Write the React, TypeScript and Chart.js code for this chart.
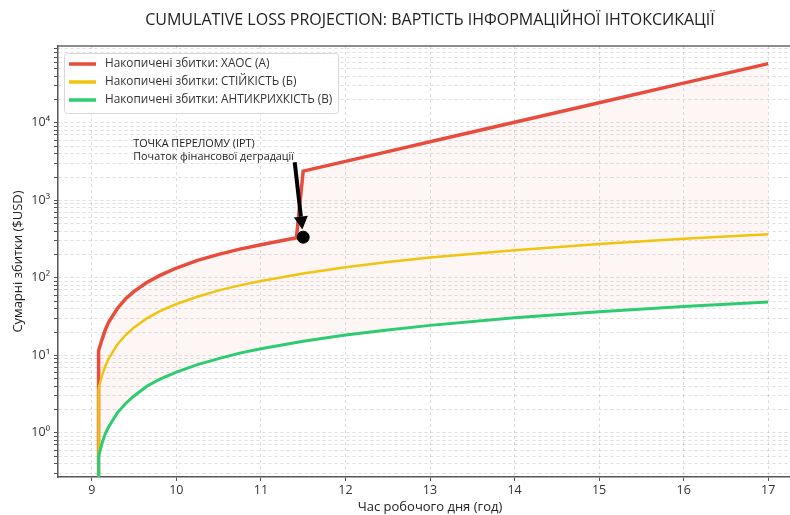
import React, { useEffect, useRef } from 'react';
import { Chart, registerables } from 'chart.js';
Chart.register(...registerables);

const TITLE = 'CUMULATIVE LOSS PROJECTION: ВАРТІСТЬ ІНФОРМАЦІЙНОЇ ІНТОКСИКАЦІЇ';
const X_TITLE = 'Час робочого дня (год)';
const Y_TITLE = 'Сумарні збитки ($USD)';
const LABEL_CHAOS = 'Накопичені збитки: ХАОС (А)';
const LABEL_STEADY = 'Накопичені збитки: СТІЙКІСТЬ (Б)';
const LABEL_ANTI = 'Накопичені збитки: АНТИКРИХКІСТЬ (В)';
const ANNOT_LINES = ['ТОЧКА ПЕРЕЛОМУ (IPT)', 'Початок фінансової деградації'];

// near-zero cumulative loss at the start of the day (below the visible axis range)
const START_LOSS = 0.001;

// hours for the resilient / antifragile series
const hours = [9.08, 9.08, 9.12, 9.16, 9.2, 9.3, 9.4, 9.5, 9.65, 9.8, 10, 10.25, 10.5, 10.75, 11, 11.5, 12, 12.5, 13, 14, 15, 16, 17];
const lossSteady = [START_LOSS, 3.7, 5.5, 7.3, 9.1, 13.7, 18.3, 23, 30, 37, 46, 57, 69, 80, 91, 114, 137, 160, 183, 228, 274, 320, 366];
const lossAnti = [START_LOSS, 0.5, 0.73, 0.98, 1.2, 1.8, 2.4, 3.0, 4.0, 4.9, 6.1, 7.6, 9.1, 10.7, 12.2, 15.2, 18.3, 21.3, 24.4, 30.5, 36.6, 42.7, 48.8];
// hours for the chaos series (with the jump at IPT)
const hoursChaos = [9.08, 9.08, 9.12, 9.16, 9.2, 9.3, 9.4, 9.5, 9.65, 9.8, 10, 10.25, 10.5, 10.75, 11, 11.42, 11.5, 12, 12.5, 13, 14, 15, 16, 17];
const lossChaos = [START_LOSS, 11.5, 16, 21.5, 27, 40, 54, 67, 87, 107, 134, 168, 201, 235, 268, 330, 2380, 3180, 4250, 5700, 10200, 18200, 32500, 58000];

// IPT annotation (data coordinates)
const IPT_POINT = [11.5, 335];
const ARROW_TAIL = [11.4, 3100];
const ARROW_TIP = [11.49, 420];
const ANNOT_TEXT_POS = [9.49, 5300];

const X_TICKS = [9, 10, 11, 12, 13, 14, 15, 16, 17];
const Y_DECADES = [-1, 0, 1, 2, 3, 4, 5];
const Y_DECADE_LABELS = ['10⁻¹', '10⁰', '10¹', '10²', '10³', '10⁴', '10⁵'];
const Y_MINOR_MULT = [1, 2, 3, 4, 5, 6, 7, 8, 9];
const Y_MIN = 0.27;
const Y_MAX = 98000;

const FONT = '"Open Sans", Lato, sans-serif';
const RED = '#e74c3c';
const YELLOW = '#f1c40f';
const GREEN = '#2ecc71';

const toXY = (xs: number[], ys: number[]) => xs.map((x, i) => ({ x, y: ys[i] }));

const extrasPlugin = {
  id: 'extras',
  afterDraw(chart: any) {
    const { ctx, chartArea, scales } = chart;
    const xs = scales.x, ys = scales.y;
    ctx.save();
    // top spine
    ctx.strokeStyle = '#666';
    ctx.lineWidth = 1.5;
    ctx.beginPath();
    ctx.moveTo(chartArea.left, chartArea.top);
    ctx.lineTo(chartArea.right, chartArea.top);
    ctx.stroke();
    // title
    ctx.fillStyle = '#222';
    ctx.font = '16px ' + FONT;
    ctx.textAlign = 'center';
    ctx.textBaseline = 'middle';
    ctx.fillText(TITLE, (chartArea.left + chartArea.right) / 2, 20);

    // annotation arrow
    const tx = xs.getPixelForValue(ARROW_TAIL[0]);
    const ty = ys.getPixelForValue(ARROW_TAIL[1]);
    const hx = xs.getPixelForValue(ARROW_TIP[0]);
    const hy = ys.getPixelForValue(ARROW_TIP[1]);
    const ang = Math.atan2(hy - ty, hx - tx);
    const headLen = 13, headW = 7;
    const bx = hx - headLen * Math.cos(ang), by = hy - headLen * Math.sin(ang);
    ctx.strokeStyle = '#000';
    ctx.fillStyle = '#000';
    ctx.lineWidth = 4;
    ctx.beginPath();
    ctx.moveTo(tx, ty);
    ctx.lineTo(bx, by);
    ctx.stroke();
    ctx.beginPath();
    ctx.moveTo(hx, hy);
    ctx.lineTo(bx + headW * Math.sin(ang), by - headW * Math.cos(ang));
    ctx.lineTo(bx - headW * Math.sin(ang), by + headW * Math.cos(ang));
    ctx.closePath();
    ctx.fill();

    // annotation text
    const ax = xs.getPixelForValue(ANNOT_TEXT_POS[0]);
    const ay = ys.getPixelForValue(ANNOT_TEXT_POS[1]);
    ctx.fillStyle = '#222';
    ctx.font = '10.8px ' + FONT;
    ctx.textAlign = 'left';
    ctx.textBaseline = 'middle';
    ANNOT_LINES.forEach((t, i) => ctx.fillText(t, ax, ay + i * 12.5));

    // legend
    const lx = 64, ly = 53, lw = 274, lh = 60;
    ctx.fillStyle = 'rgba(255,255,255,0.85)';
    ctx.strokeStyle = '#d8d8d8';
    ctx.lineWidth = 1;
    ctx.beginPath();
    (ctx as any).roundRect(lx + 0.5, ly + 0.5, lw, lh, 3);
    ctx.fill();
    ctx.stroke();
    const items = chart.data.datasets.filter((d: any) => !d.hideInLegend);
    items.forEach((d: any, i: number) => {
      const y = ly + 11 + i * 18;
      ctx.strokeStyle = d.borderColor;
      ctx.lineWidth = 3.5;
      ctx.beginPath();
      ctx.moveTo(lx + 5, y);
      ctx.lineTo(lx + 32, y);
      ctx.stroke();
      ctx.fillStyle = '#333';
      ctx.font = '11.8px ' + FONT;
      ctx.textAlign = 'left';
      ctx.textBaseline = 'middle';
      ctx.fillText(d.label, lx + 41, y);
    });
    ctx.restore();
  },
};

export default function App() {
  const ref = useRef<HTMLCanvasElement | null>(null);
  useEffect(() => {
    if (!ref.current) return;
    const gridColor = 'rgba(0,0,0,0.13)';
    const chart = new Chart(ref.current, {
      type: 'line',
      data: {
        datasets: [
          {
            label: LABEL_CHAOS,
            data: toXY(hoursChaos, lossChaos),
            borderColor: RED,
            backgroundColor: 'rgba(231,76,60,0.05)',
            borderWidth: 3.5,
            pointRadius: 0,
            fill: 2,
            order: 3,
            clip: 0,
          },
          {
            label: LABEL_STEADY,
            data: toXY(hours, lossSteady),
            borderColor: YELLOW,
            borderWidth: 2.5,
            pointRadius: 0,
            fill: false,
            order: 2,
            clip: 0,
          },
          {
            label: LABEL_ANTI,
            data: toXY(hours, lossAnti),
            borderColor: GREEN,
            borderWidth: 3,
            pointRadius: 0,
            fill: false,
            order: 1,
            clip: 0,
          },
          {
            label: 'IPT',
            data: [{ x: IPT_POINT[0], y: IPT_POINT[1] }],
            showLine: false,
            pointRadius: 6,
            pointBackgroundColor: '#000',
            pointBorderColor: '#000',
            borderColor: '#000',
            order: 0,
            hideInLegend: true,
          } as any,
        ],
      },
      options: {
        animation: false,
        responsive: false,
        layout: { padding: { top: 46, left: 0, right: 10, bottom: 0 } },
        plugins: { legend: { display: false }, tooltip: { enabled: false }, title: { display: false } },
        scales: {
          x: {
            type: 'linear',
            min: 8.6,
            max: 17.4,
            afterBuildTicks: (s: any) => { s.ticks = X_TICKS.map((v) => ({ value: v })); },
            afterFit: (s: any) => { s.height = 38; },
            ticks: { color: '#333', font: { family: FONT, size: 12.5 }, padding: 2, autoSkip: false, maxRotation: 0 },
            grid: { color: gridColor, tickColor: '#555', tickLength: 4, tickBorderDash: [] } as any,
            border: { display: true, color: '#555', width: 1.5, dash: [3, 3] },
            title: { display: true, text: X_TITLE, color: '#222', font: { family: FONT, size: 13 }, padding: { top: 0, bottom: 0 } },
          },
          y: {
            type: 'logarithmic',
            min: Y_MIN,
            max: Y_MAX,
            afterBuildTicks: (s: any) => {
              const t: any[] = [];
              Y_DECADES.forEach((e) => Y_MINOR_MULT.forEach((m) => {
                const v = m * Math.pow(10, e);
                if (v >= Y_MIN && v <= Y_MAX) t.push({ value: v, major: m === 1 });
              }));
              s.ticks = t;
            },
            afterFit: (s: any) => { s.width = 58; },
            ticks: {
              color: '#333',
              font: { family: FONT, size: 12.5 },
              padding: 4,
              autoSkip: false,
              callback: (v: any) => {
                const e = Math.log10(Number(v));
                const r = Math.round(e);
                if (Math.abs(e - r) < 1e-9) {
                  const i = Y_DECADES.indexOf(r);
                  return i >= 0 ? Y_DECADE_LABELS[i] : '';
                }
                return '';
              },
            },
            grid: { color: gridColor, tickColor: '#555', tickLength: 4, tickBorderDash: [] } as any,
            border: { display: true, color: '#555', width: 1.5, dash: [3, 3] },
            title: { display: true, text: Y_TITLE, color: '#222', font: { family: FONT, size: 13 }, padding: { top: 10, bottom: 0 } },
          },
        },
      },
      plugins: [extrasPlugin],
    });
    return () => chart.destroy();
  }, []);
  return (
    <div style={{ position: 'absolute', left: 0, top: 0, width: 790, height: 515, overflow: 'hidden', background: '#fff' }}>
      <canvas ref={ref} width={812} height={515} style={{ width: 812, height: 515, display: 'block' }} />
    </div>
  );
}
